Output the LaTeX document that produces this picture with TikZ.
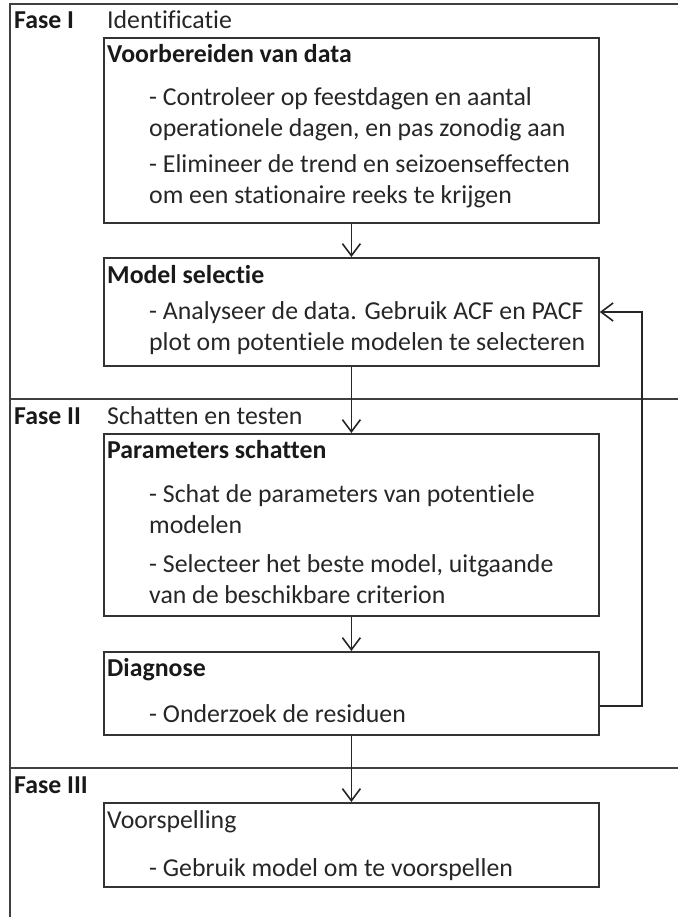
\documentclass[tikz,border=0pt]{standalone}
\usepackage{fontspec}
\setmainfont{Carlito}[Ligatures={NoCommon,NoContextual}]
\usetikzlibrary{arrows.meta}
\begin{document}
\begin{tikzpicture}[x=1pt,y=-1pt,
  frame/.style={draw=black!75, line width=1.6pt},
  box/.style={draw=black!80, line width=1.8pt, anchor=north west, inner sep=0pt, minimum width=495pt},
  txt/.style={anchor=base west, inner sep=0pt, font=\fontsize{25.8}{30}\selectfont, text=black!85},
  ttl/.style={anchor=base west, inner sep=0pt, font=\fontsize{25.8}{30}\selectfont\bfseries, text=black!90},
  arr/.style={draw=black!85, line width=1.6pt, -{Straight Barb[length=12pt,width=18pt,line width=1.6pt]}}]
\useasboundingbox (0,0) rectangle (678,917);
% frame
\coordinate (ftl) at (10,4);
\coordinate (ftr) at (678,4);
\coordinate (fbl) at (10,917);
\coordinate (s1l) at (10,399);
\coordinate (s1r) at (678,399);
\coordinate (s2l) at (10,768);
\coordinate (s2r) at (678,768);
\draw[frame] (ftr) -- (ftl) -- (fbl);
\draw[frame] (s1l) -- (s1r);
\draw[frame] (s2l) -- (s2r);
% phase labels
\node[ttl] (f1) at (14,29) {Fase I};
\node[txt] (f1t) at (107,29) {Identificatie};
\node[ttl] (f2) at (14,424) {Fase II};
\node[txt] (f2t) at (107,424) {Schatten en testen};
\node[ttl] (f3) at (14,793) {Fase III};
% boxes
\node[box, minimum height=185pt] (b1) at (103,37) {};
\node[box, minimum height=108pt] (b2) at (103,257) {};
\node[box, minimum height=182pt] (b3) at (103,433) {};
\node[box, minimum height=83pt] (b4) at (103,651) {};
\node[box, minimum height=84pt] (b5) at (103,802) {};
% box 1 text
\node[ttl] (t1) at (107,63) {Voorbereiden van data};
\node[txt] (t1a) at (149,106) {- Controleer op feestdagen en aantal};
\node[txt] (t1b) at (149,137) {operationele dagen, en pas zonodig aan};
\node[txt] (t1c) at (149,173) {- Elimineer de trend en seizoenseffecten};
\node[txt] (t1d) at (149,204) {om een stationaire reeks te krijgen};
% box 2 text
\node[ttl] (t2) at (107,283) {Model selectie};
\node[txt] (t2a) at (149,319) {- Analyseer de data. Gebruik ACF en PACF};
\node[txt] (t2b) at (149,350) {plot om potentiele modelen te selecteren};
% box 3 text
\node[ttl] (t3) at (107,458) {Parameters schatten};
\node[txt] (t3a) at (149,502) {- Schat de parameters van potentiele};
\node[txt] (t3b) at (149,533) {modelen};
\node[txt] (t3c) at (149,572) {- Selecteer het beste model, uitgaande};
\node[txt] (t3d) at (149,603) {van de beschikbare criterion};
% box 4 text
\node[ttl] (t4) at (107,676) {Diagnose};
\node[txt] (t4a) at (149,722) {- Onderzoek de residuen};
% box 5 text
\node[txt] (t5) at (107,828) {Voorspelling};
\node[txt] (t5a) at (149,876) {- Gebruik model om te voorspellen};
% connectors
\draw[arr] (b1.south) -- (b2.north);
\draw[arr] (b2.south) -- (b3.north);
\draw[arr] (b3.south) -- (b4.north);
\draw[arr] (b4.south) -- (b5.north);
\coordinate (fbx) at (642,0);
\draw[arr] (b4.east |- 0,706) -| (fbx |- 0,312) -- (b2.east |- 0,312);
\end{tikzpicture}
\end{document}
